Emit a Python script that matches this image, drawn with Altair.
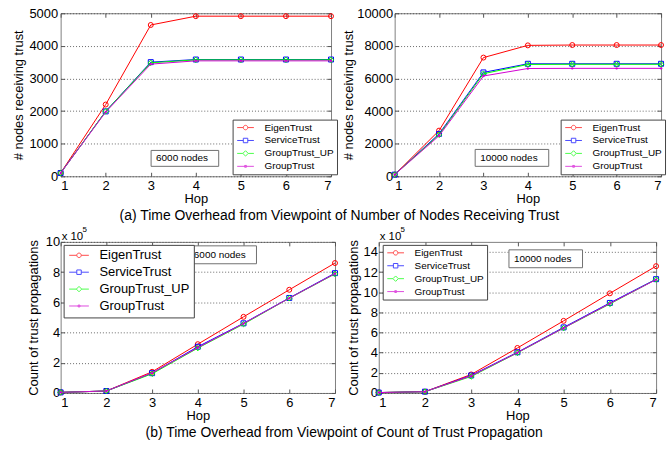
import altair as alt
import pandas as pd

FONT = "Liberation Sans"

hops = [1, 2, 3, 4, 5, 6, 7]
series_names = ["EigenTrust", "ServiceTrust", "GroupTrust_UP", "GroupTrust"]
series_colors = ["#ff0000", "#0000ff", "#00ff00", "#d200d2"]

# (a) nodes receiving trust, 6000 nodes
a6_eigen = [100, 2200, 4640, 4910, 4910, 4910, 4910]
a6_service = [100, 1990, 3500, 3580, 3580, 3580, 3580]
a6_up = [100, 1990, 3480, 3570, 3570, 3570, 3570]
a6_group = [100, 1970, 3440, 3540, 3540, 3540, 3540]

# (a) nodes receiving trust, 10000 nodes
a10_eigen = [100, 2800, 7280, 8030, 8050, 8050, 8050]
a10_service = [100, 2600, 6370, 6900, 6900, 6900, 6900]
a10_up = [100, 2540, 6290, 6860, 6870, 6870, 6870]
a10_group = [100, 2480, 6150, 6610, 6620, 6620, 6620]

# (b) count of trust propagations (x 10^5), 6000 nodes
b6_eigen = [0.04, 0.13, 1.40, 3.23, 5.04, 6.83, 8.60]
b6_service = [0.04, 0.13, 1.31, 3.06, 4.61, 6.29, 7.93]
b6_up = [0.04, 0.13, 1.27, 2.97, 4.56, 6.27, 7.88]
b6_group = [0.04, 0.13, 1.33, 3.00, 4.60, 6.27, 7.90]

# (b) count of trust propagations (x 10^5), 10000 nodes
b10_eigen = [0.04, 0.13, 1.84, 4.47, 7.16, 9.89, 12.59]
b10_service = [0.04, 0.13, 1.74, 4.04, 6.51, 8.94, 11.30]
b10_up = [0.04, 0.13, 1.64, 3.98, 6.44, 8.84, 11.27]
b10_group = [0.04, 0.13, 1.70, 4.00, 6.45, 8.88, 11.25]

caption_a = "(a) Time Overhead from Viewpoint of Number of Nodes Receiving Trust"
caption_b = "(b) Time Overhead from Viewpoint of Count of Trust Propagation"

marker_shapes = ["circle", "square", "diamond", "circle"]
marker_sizes = [25, 25, 30, 6]
marker_filled = [False, False, False, True]


def legend_paths(half):
    m = 0.75
    return [
        f"M{-half},0H{-m}M{m},0H{half}M{-m},0A{m},{m},0,1,1,{m},0A{m},{m},0,1,1,{-m},0Z",
        f"M{-half},0H{-m}M{m},0H{half}M{-m},{-m}H{m}V{m}H{-m}Z",
        f"M{-half},0H{-0.9}M0.9,0H{half}M-0.9,0L0,-0.9L0.9,0L0,0.9Z",
        f"M{-half},0H{half}M-0.3,-0.3H0.3V0.3H-0.3Z",
    ]


def panel(values, width, height, ymax, yticks, ytitle, note, box, leg,
          ylab_pad, ytitle_pad, exp=False):
    xs = alt.Scale(domain=[1, 7], nice=False, zero=False)
    ys = alt.Scale(domain=[0, ymax], nice=False)
    X = alt.X("hop:Q", scale=xs,
              axis=alt.Axis(values=hops, format="d", title="Hop", offset=-4, tickSize=4,
                            domain=False, grid=False, labelPadding=3.5, titlePadding=0,
                            minExtent=0))
    Y = alt.Y("value:Q", scale=ys,
              axis=alt.Axis(values=yticks, title=ytitle, offset=-4, tickSize=4,
                            domain=False, grid=True, gridDash=[1, 2],
                            gridColor="#444444", gridWidth=0.8, labelPadding=ylab_pad,
                            titlePadding=ytitle_pad, format="d", minExtent=0))
    Xn = alt.X("hop:Q", scale=xs, axis=None)
    Yn = alt.Y("value:Q", scale=ys, axis=None)
    Xt = alt.X("hop:Q", scale=xs,
               axis=alt.Axis(orient="top", values=hops, labels=False, title=None,
                             offset=-4, tickSize=4, domain=False, grid=False, minExtent=0))
    Yr = alt.Y("value:Q", scale=ys,
               axis=alt.Axis(orient="right", values=yticks, labels=False, title=None,
                             offset=-4, tickSize=4, domain=False, grid=False, minExtent=0))

    layers = []
    first = True
    for name, color, shape, size, filled, vals in zip(series_names, series_colors,
                                                      marker_shapes, marker_sizes,
                                                      marker_filled, values):
        df = pd.DataFrame({"hop": hops, "value": vals, "series": name})
        base = alt.Chart(df)
        if first:
            layers.append(base.mark_line(color=color, strokeWidth=1).encode(x=X, y=Y))
            layers.append(base.mark_point(opacity=0).encode(x=Xt, y=Yr))
            first = False
        else:
            layers.append(base.mark_line(color=color, strokeWidth=1).encode(x=Xn, y=Yn))
        layers.append(base.mark_point(color=color, shape=shape, size=size,
                                      filled=filled, strokeWidth=1,
                                      opacity=1).encode(x=Xn, y=Yn))

    lx, ly, lfont, lrow, lpad, half = leg
    legend_props = dict(orient="none", legendX=lx, legendY=ly, title=None,
                        labelFont=FONT, labelFontSize=lfont, labelColor="black",
                        symbolSize=36, symbolStrokeWidth=1, symbolOffset=5,
                        labelOffset=14, rowPadding=lrow, padding=lpad,
                        strokeColor="#444444", fillColor="white", labelLimit=200)
    leg_df = pd.DataFrame({"hop": [1] * 4, "value": [0] * 4, "series": series_names})
    legend_layer = alt.Chart(leg_df).transform_filter("datum.hop > 100").mark_point(
        size=36, filled=False, strokeWidth=1).encode(
        x=Xn, y=Yn,
        color=alt.Color("series:N", scale=alt.Scale(domain=series_names, range=series_colors),
                        legend=alt.Legend(**legend_props)),
        shape=alt.Shape("series:N", scale=alt.Scale(domain=series_names,
                                                    range=legend_paths(half)),
                        legend=alt.Legend(**legend_props)),
    )
    layers.append(legend_layer)

    bx0, bx1, by0, by1 = box
    note_df = pd.DataFrame({"label": [note]})
    layers.append(alt.Chart(note_df).mark_rect(fill="white", stroke="#707070",
                                               strokeWidth=1).encode(
        x=alt.value(bx0), x2=alt.value(bx1), y=alt.value(by0), y2=alt.value(by1)))
    layers.append(alt.Chart(note_df).mark_text(align="left", baseline="middle", font=FONT,
                                               fontSize=10, color="black").encode(
        x=alt.value(bx0 + 5), y=alt.value((by0 + by1) / 2), text="label:N"))

    if exp:
        exp_df = pd.DataFrame({"base": ["x 10"], "power": ["5"]})
        layers.append(alt.Chart(exp_df).mark_text(align="left", baseline="alphabetic",
                                                  font=FONT, fontSize=11.5,
                                                  color="black").encode(
            x=alt.value(1), y=alt.value(-2), text="base:N"))
        layers.append(alt.Chart(exp_df).mark_text(align="left", baseline="alphabetic",
                                                  font=FONT, fontSize=8,
                                                  color="black").encode(
            x=alt.value(22), y=alt.value(-10), text="power:N"))

    return alt.layer(*layers).resolve_axis(x="independent", y="independent").properties(
        width=width, height=height)


tl = panel([a6_eigen, a6_service, a6_up, a6_group], 272, 164, 5000,
           [0, 1000, 2000, 3000, 4000, 5000], "# nodes receiving trust",
           "6000 nodes", (91, 159, 138, 154), (173, 107, 10, 3, 3, 2.8), 3, 3)
tr = panel([a10_eigen, a10_service, a10_up, a10_group], 268, 164, 10000,
           [0, 2000, 4000, 6000, 8000, 10000], "# nodes receiving trust",
           "10000 nodes", (81, 155, 137, 154), (167, 107, 10, 3, 3, 2.8), 2, 1.7)
bl = panel([b6_eigen, b6_service, b6_up, b6_group], 276, 152, 10,
           [0, 2, 4, 6, 8, 10], "Count of trust propagations",
           "6000 nodes", (129, 197, 4, 22), (3, 3, 13, 3, 4, 3.3), 1, 5, exp=True)
br = panel([b10_eigen, b10_service, b10_up, b10_group], 279, 152, 15,
           [0, 2, 4, 6, 8, 10, 12, 14], "Count of trust propagations",
           "10000 nodes", (131, 205, 8, 26), (4, 3, 10, 3, 3, 2.8), 1.3, 3, exp=True)

cap_style = dict(orient="bottom", anchor="middle", font=FONT, fontSize=14,
                 fontWeight="normal", color="black", offset=3)
top = alt.hconcat(tl, tr, spacing=3, title=alt.Title(caption_a, **cap_style)).resolve_scale(
    color="independent", shape="independent")
bottom = alt.hconcat(bl, br, spacing=5, title=alt.Title(caption_b, **cap_style)).resolve_scale(
    color="independent", shape="independent")

chart = alt.vconcat(top, bottom, spacing=2).resolve_scale(
    color="independent", shape="independent").properties(
    padding={"left": 12, "top": 5, "right": 3, "bottom": 3}
).configure(background="white").configure_view(
    stroke="#808080", strokeWidth=1).configure_axis(
    labelFont=FONT, titleFont=FONT, labelFontSize=13, titleFontSize=13,
    labelColor="black", titleColor="black", titleFontWeight="normal",
    tickColor="#555555", minExtent=0
)

chart.save("out.html", embed_options={"renderer": "svg", "actions": False})
